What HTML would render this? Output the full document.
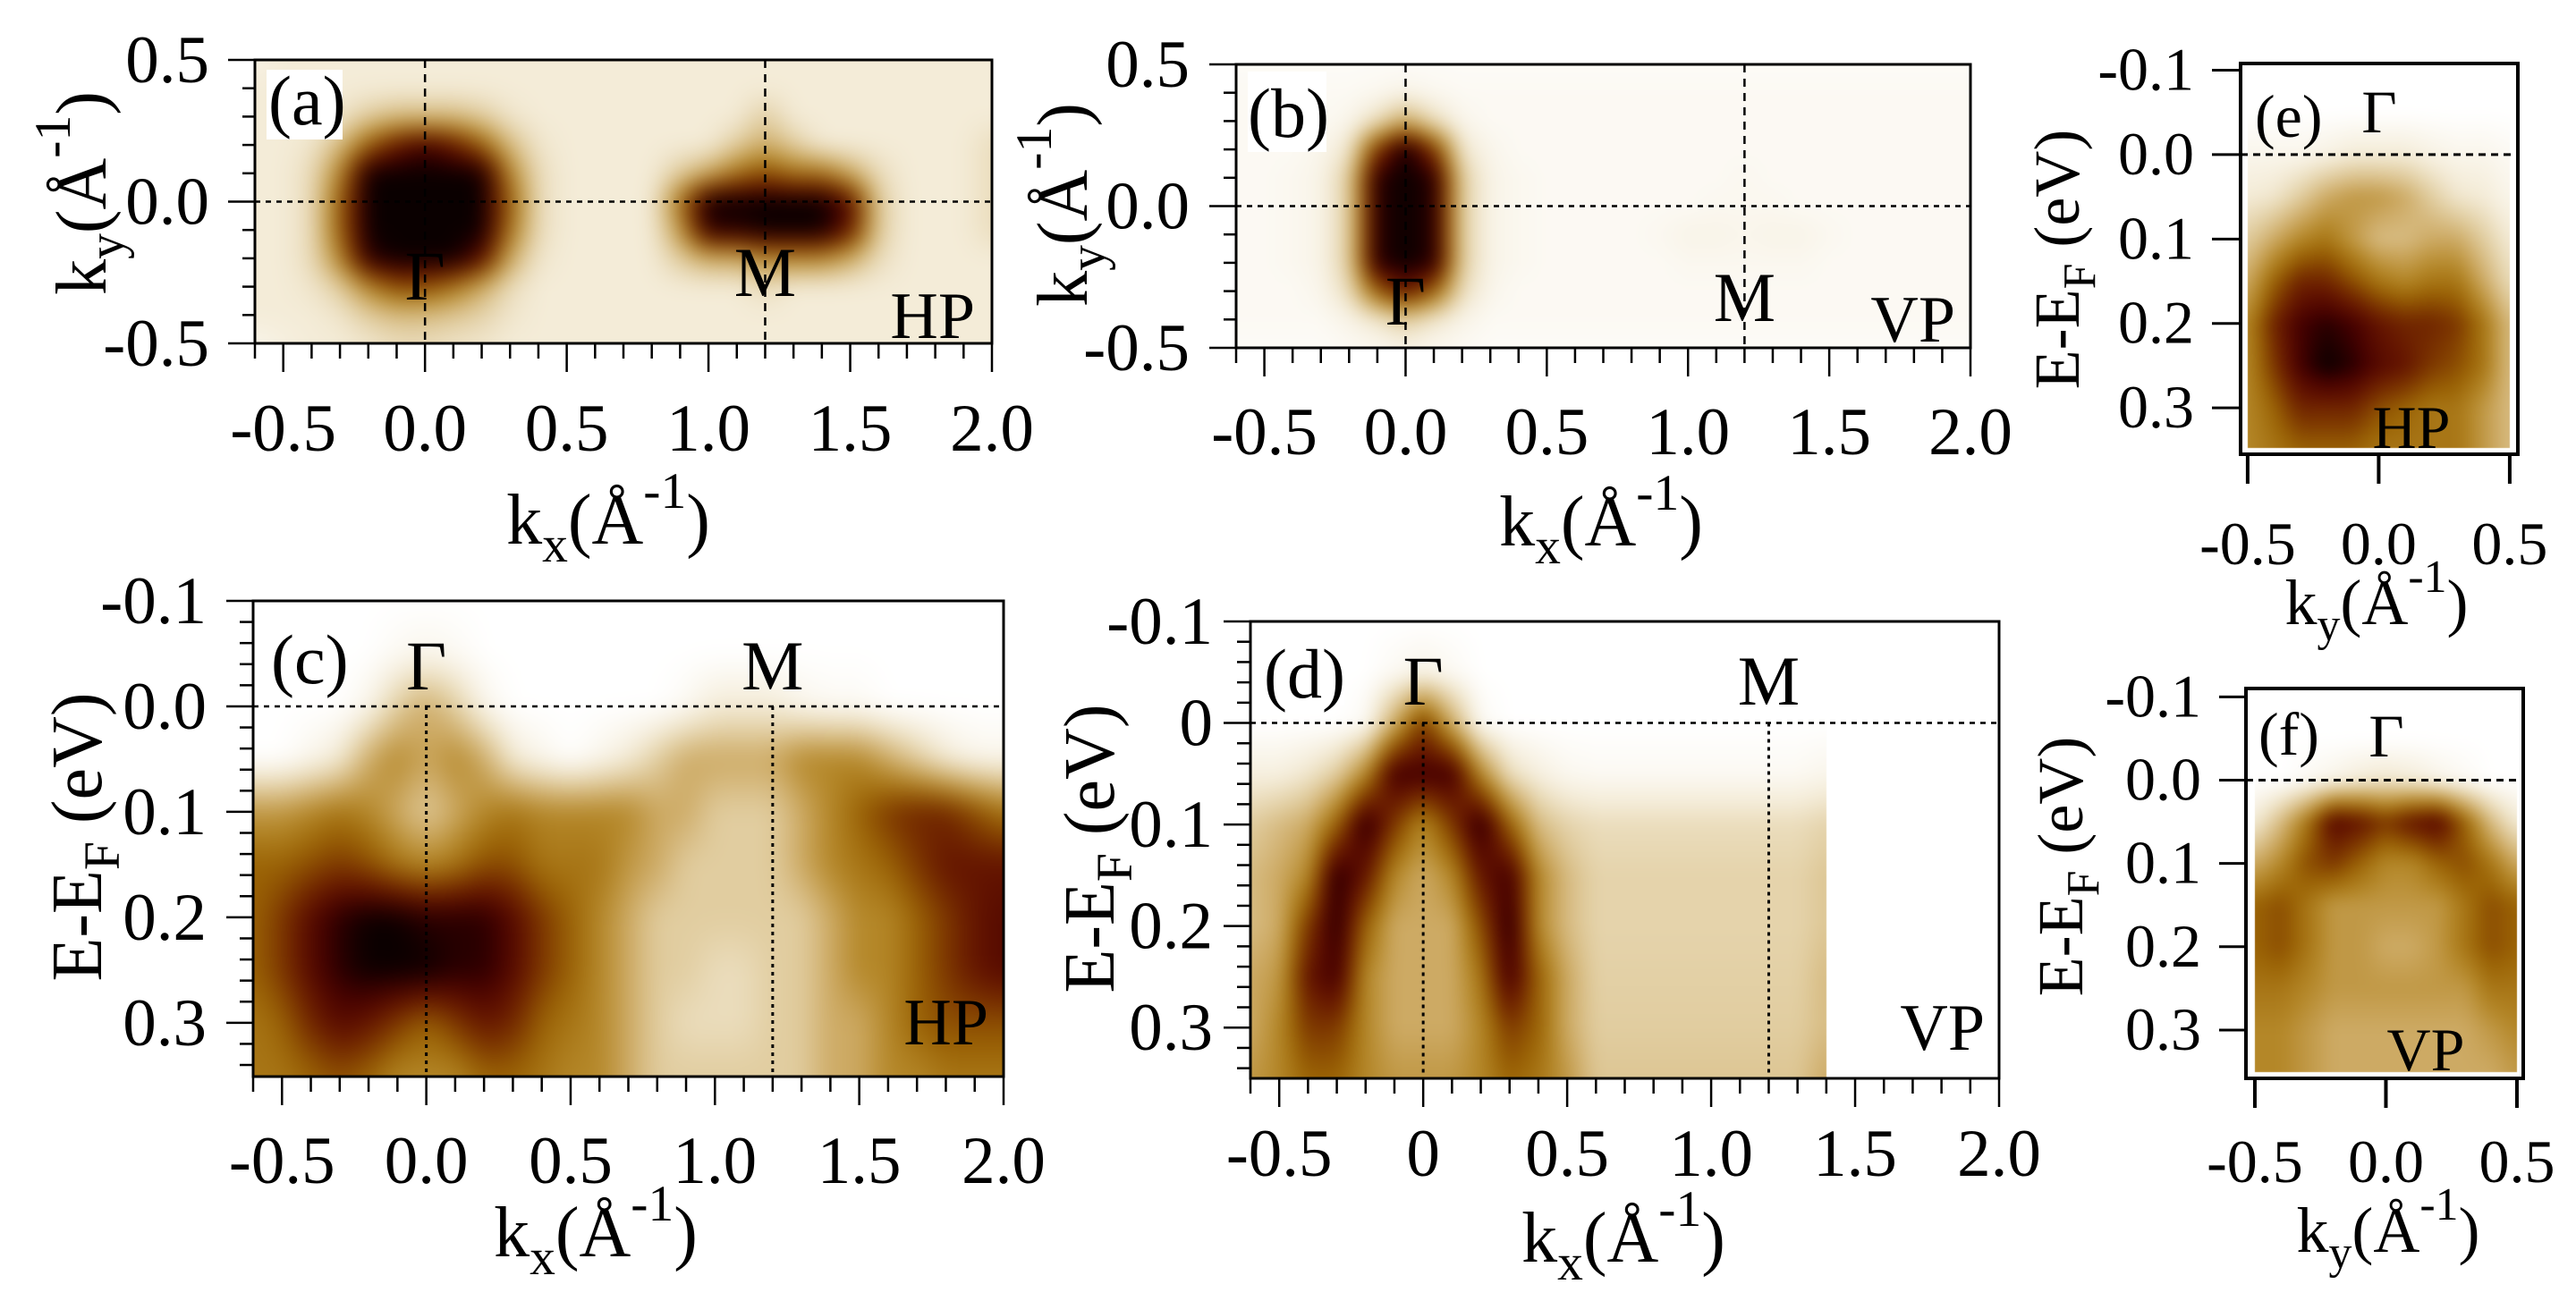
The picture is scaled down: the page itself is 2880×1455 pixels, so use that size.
<!DOCTYPE html>
<html><head><meta charset="utf-8">
<style>
html,body{margin:0;padding:0;background:#fff;}
#wrap{position:relative;width:2880px;height:1455px;overflow:hidden;background:#fff;}
#heat{position:absolute;left:0;top:0;}
#ov{position:absolute;left:0;top:0;}
text{font-family:"Liberation Serif",serif;fill:#000;}
</style></head>
<body>
<div id="wrap">
<canvas id="heat" width="2880" height="1455"></canvas>
<svg id="ov" width="2880" height="1455" xmlns="http://www.w3.org/2000/svg"></svg>
</div>
<script>
// ---------- data grids (intensity 0..9) ----------
const aKx = [-0.6, 2.0, 0.1];   // start, end, step
const aKy = [0.5, -0.5, -0.1];
const aIntensity = [
[0.6,1,1,1,1,1,1,1,1,1,1,1,1,1,1,1,1,1,1,1,1,1,1,1,1,1,1],
[1,1,1,1,1,1,1,1,1,1,1,1,1,1,1,1,1,1,1,1,1,1,1,1,1,1,1],
[1,1,1,1.2,2,2.5,2.5,2.5,2,1.2,1,1,1,1,1,1,1,1,2,1,1,1,1,1,1,1,1],
[1,1,1.2,2.5,5,7,8,7,5,2.5,1.2,1,1,1,1,1,1,2,3,2,1,1,1,1,1,1,1.5],
[1,1,1.5,4,9,9,9,9,9,4,1.5,1,1,1,1,2,3,4.5,5.5,4.5,4.5,3,1.5,1,1,1,1.5],
[1,1,1.5,5,9,9,9,9,9,5,1.5,1,1,1,1,4.5,9,9,9,9,9,7.5,2,1,1,1,1.5],
[1,1,1.5,5,9,9,9,9,9,4.5,1.5,1,1,1,1,3.5,8.5,8.5,9,9,9,7,2,1,1,1,1.5],
[1,1,1.5,4,8.5,9,9,9,7.5,3,1.2,1,1,1,1,2,3,3,4,4,4,3,1.5,1,1,1,1],
[1,1,1.2,2,4,5.5,5.5,4.5,3,1.5,1,1,1,1,1,1,1,1,1.5,1,1,1,1,1,1,1,1],
[1,1,1,1.2,2,2.5,2.5,2.2,1.8,1.2,1,1,1,1,1,1,1,1,1,1,1,1,1,1,1,1,1],
[0.5,0.8,1,1,1.2,1.5,1.5,1.3,1.2,1,1,1,1,1,1,1,1,1,1,1,1,1,1,1,1,1,1]];
const bKx = [-0.6, 2.0, 0.1];
const bKy = [0.5, -0.5, -0.1];
const bIntensity = [
[0.2,0.2,0.2,0.2,0.2,0.2,0.2,0.2,0.2,0.2,0.2,0.2,0.2,0.2,0.2,0.2,0.2,0.2,0.2,0.2,0.2,0.2,0.2,0.2,0.2,0.2,0.2],
[0.3,0.3,0.3,0.3,0.3,0.4,0.6,0.4,0.3,0.3,0.3,0.3,0.3,0.3,0.3,0.3,0.3,0.3,0.3,0.3,0.3,0.3,0.3,0.3,0.3,0.3,0.3],
[0.3,0.3,0.3,0.3,0.5,1.5,3,1.5,0.5,0.3,0.3,0.3,0.3,0.3,0.3,0.3,0.3,0.3,0.3,0.3,0.3,0.3,0.3,0.3,0.3,0.3,0.3],
[0.3,0.3,0.3,0.5,1.2,6,9,6,1.2,0.5,0.3,0.3,0.3,0.3,0.3,0.3,0.3,0.3,0.3,0.3,0.3,0.3,0.3,0.3,0.3,0.3,0.3],
[0.3,0.3,0.4,0.6,2,8.5,9,8.5,2,0.6,0.4,0.3,0.3,0.3,0.3,0.3,0.3,0.3,0.4,0.3,0.3,0.3,0.3,0.3,0.3,0.3,0.3],
[0.3,0.3,0.4,0.6,2,8.5,9,8.5,2,0.6,0.4,0.3,0.3,0.3,0.3,0.3,0.3,0.4,0.4,0.4,0.3,0.3,0.3,0.3,0.3,0.3,0.3],
[0.3,0.3,0.4,0.6,2,8.5,9,8.5,2,0.6,0.4,0.3,0.3,0.3,0.3,0.4,0.6,0.6,0.5,0.6,0.6,0.4,0.3,0.3,0.3,0.3,0.3],
[0.3,0.3,0.4,0.6,2,8.5,9,8.5,2,0.6,0.4,0.3,0.3,0.3,0.3,0.3,0.4,0.4,0.4,0.4,0.4,0.3,0.3,0.3,0.3,0.3,0.3],
[0.3,0.3,0.3,0.5,1.5,5,7,5,1.5,0.5,0.3,0.3,0.3,0.3,0.3,0.3,0.3,0.3,0.3,0.3,0.3,0.3,0.3,0.3,0.3,0.3,0.3],
[0.3,0.3,0.3,0.3,0.6,1.2,2,1.2,0.6,0.3,0.3,0.3,0.3,0.3,0.3,0.3,0.3,0.3,0.3,0.3,0.3,0.3,0.3,0.3,0.3,0.3,0.3],
[0.2,0.2,0.2,0.2,0.3,0.4,0.6,0.4,0.3,0.2,0.2,0.2,0.2,0.2,0.2,0.2,0.2,0.2,0.2,0.2,0.2,0.2,0.2,0.2,0.2,0.2,0.2]];
const cKx = [-0.6, 2.0, 0.1];
const cE = [-0.1, 0.35, 0.05];
const cIntensity = [
[0,0,0,0,0,0,0,0,0,0,0,0,0,0,0,0,0,0,0,0,0,0,0,0,0,0,0],
[0,0,0,0,0,0.3,0.5,0.3,0,0,0,0,0,0,0,0,0,0,0,0,0,0,0,0,0,0,0],
[0,0,0,0,0.5,2,3,2,0.5,0,0,0,0,0,0,0.3,1,1,1,0.5,0.3,0.3,0,0,0,0,0],
[0,0,0.5,1,3,4,3,4,3,1,0.5,0,0.5,1,2,3,3,3,3,4,4,4,3,2,1,0.5,0.5],
[3.5,3.5,4,4.5,4,3,2,3,4,4.5,4,4,4,4,3,3,2,2,2,3,4,5,6,6.5,6.5,5.5,4.5],
[5,5,5.5,6,5.5,4.5,4,4.5,5.5,5.5,4.5,4.5,4.5,3.5,3,2,2,2,2,3,4,4.5,5,6,7,7,7],
[5,6,7.5,8.5,9,9,8.5,8.5,8.5,7.5,6,5,4,3,2,2,2,2,2,2,3,4,4,5,6,7,7.5],
[5,6,7.5,8.5,9,9,9,8.5,8.5,7.5,6,5,4,3,2,2,1.5,1.5,2,2,3,4,4,5,6,7,7.5],
[4.5,5,6.5,7.5,7,6,5,6,7,6.5,5,4.5,4,3,2,1.5,1.5,1.5,2,2,3,3,4,5,5.5,5.5,5.5],
[4.5,4.5,5,5.5,5,4,4,4,5,5,4.5,4,4,3,2,2,2,2,2,2,3,3,4,4,4.5,4.5,4.5]];
const dKx = [-0.6, 1.4, 0.1];
const dE = [-0.1, 0.35, 0.05];
const dIntensity = [
[0,0,0,0,0,0,0,0,0,0,0,0,0,0,0,0,0,0,0,0,0],
[0,0,0,0,0,0.3,0.6,0.3,0,0,0,0,0,0,0,0,0,0,0,0,0],
[0,0,0,0,0.3,3,6,3,0.3,0,0,0,0,0,0,0,0,0,0,0,0],
[0.8,0.8,1.2,2,4,8,8,8,4,1.5,0.8,0.4,0.3,0.3,0.3,0.3,0.3,0.3,0.3,0.3,0.5],
[2,2.5,3,5,8.5,6,4,6,8.5,5,2.5,1.8,1.5,1.5,1.5,1.5,1.5,1.5,1.5,1.5,1.8],
[2.5,3,4,8.5,7,4,3,4,7,8,4,2.5,1.8,1.8,1.8,1.8,1.8,1.8,1.8,1.8,2.2],
[2.5,3,6,8.5,5,3,3,3,5.5,8.5,4,2.5,1.8,1.8,1.8,1.8,1.8,1.8,1.8,1.8,2.2],
[3,3.5,7,8,4,3,3,3,4.5,8,5,3,1.9,1.9,1.9,1.9,1.9,1.9,1.9,1.9,2.5],
[3,4,6,6,4,3,3,3,4,6,5,3,2,2,2,2,2,2,2,2,2.5],
[3.5,4,5,5,4,3.5,3.5,3.5,4,5,4.5,3.5,2.2,2.2,2.2,2.2,2.2,2.2,2.2,2.2,3]];
const eKy = [-0.5, 0.5, 0.1];
const eE = [-0.1, 0.35, 0.05];
const eIntensity = [
[0,0,0,0,0,0,0,0,0,0,0],
[0,0,0,0,0,0,0,0,0,0,0],
[0.5,0.5,0.5,0.7,1,1,1,0.7,0.5,0.5,0.3],
[1,1.2,2,3,3.5,3.5,3,2,1.2,1,0.5],
[2,3,4,4.5,3.5,2.5,2.5,3,3,2,1],
[3,5,6.5,6.5,5.5,4.5,4,4.5,4.5,3,1.5],
[4,6.5,8,8.5,8,7,6.5,6.5,6,4.5,2.5],
[4,6,8,9,8.5,7.5,7,6,5.5,4.5,2.5],
[4,5,6.5,6.5,6.5,5.5,5,4.5,4.5,3.5,2.5],
[4,4.5,5,5,5,4.5,4.5,4.5,4.5,3.5,2.5]];
const fKy = [-0.5, 0.5, 0.1];
const fE = [-0.1, 0.35, 0.05];
const fIntensity = [
[0,0,0,0,0,0,0,0,0,0,0],
[0,0,0,0,0,0,0,0,0,0,0],
[0,0,0.3,0.6,1,1.2,1,0.6,0.3,0,0],
[1,2.5,4.5,7.5,7,6,7,7.5,5,2.5,1],
[3,4,5.5,6,5,4,4,5,5.5,4.5,3],
[5,5.5,4.5,3.5,3.5,3.5,3.5,3.5,4.5,5.5,5],
[5,5.5,4.5,3.5,3.5,3,3,3.5,4.5,5.5,5],
[4.5,4.5,4,3.5,3.5,3.5,3.5,3.5,3.5,4.5,4.5],
[4,4,3.5,3,3,3,3,3,3,3.5,4],
[4,4,3.5,3,3,3,3,3,3,3,3.5]];

// tick labels
const abXTickVals = [-0.5,0,0.5,1,1.5,2];
const abXTickLabels = ['-0.5','0.0','0.5','1.0','1.5','2.0'];
const abYTickVals = [0.5,0,-0.5];
const abYTickLabels = ['0.5','0.0','-0.5'];
const cXTickLabels = ['-0.5','0.0','0.5','1.0','1.5','2.0'];
const dXTickLabels = ['-0.5','0','0.5','1.0','1.5','2.0'];
const eYTickVals = [-0.1,0,0.1,0.2,0.3];
const cYTickLabels = ['-0.1','0.0','0.1','0.2','0.3'];
const dYTickLabels = ['-0.1','0','0.1','0.2','0.3'];
const efXTickVals = [-0.5,0,0.5];
const efXTickLabels = ['-0.5','0.0','0.5'];

// colormap stops (index = intensity level)
const cmap = [[255,255,255],[244,236,216],[225,205,160],[205,170,100],[180,135,40],[155,100,5],[125,55,0],[100,20,0],[70,0,0],[10,0,0]];

const SVGNS = 'http://www.w3.org/2000/svg';
const svg = document.getElementById('ov');
const ctx = document.getElementById('heat').getContext('2d');
ctx.fillStyle = '#fff'; ctx.fillRect(0,0,2880,1455);

function el(tag, parent){ const e = document.createElementNS(SVGNS, tag); (parent||svg).appendChild(e); return e; }
function makeAxis(P){
  P.sx = v => P.x0 + (v - P.xd[0]) / (P.xd[1]-P.xd[0]) * (P.x1-P.x0);
  P.sy = v => P.y0 + (v - P.yd[0]) / (P.yd[1]-P.yd[0]) * (P.y1-P.y0);
  return P;
}
function colorOf(v){
  v = Math.max(0, Math.min(9, v));
  const i = Math.min(8, Math.floor(v)), f = v - i;
  const a = cmap[i], b = cmap[i+1];
  return [a[0]+(b[0]-a[0])*f, a[1]+(b[1]-a[1])*f, a[2]+(b[2]-a[2])*f];
}
function drawHeat(P, gx, gy, grid, lim, blur){
  const nC = grid[0].length, nR = grid.length;
  const xa = lim ? lim[0] : P.xd[0], xb = lim ? lim[1] : P.xd[1];
  const ya = lim ? lim[2] : P.yd[0], yb = lim ? lim[3] : P.yd[1];
  const px0 = Math.round(Math.max(P.x0, Math.min(P.sx(xa), P.sx(xb))));
  const px1 = Math.round(Math.min(P.x1, Math.max(P.sx(xa), P.sx(xb))));
  const py0 = Math.round(Math.max(P.y0, Math.min(P.sy(ya), P.sy(yb))));
  const py1 = Math.round(Math.min(P.y1, Math.max(P.sy(ya), P.sy(yb))));
  const m = 40;
  const W = px1-px0+2*m, H = py1-py0+2*m;
  const off = document.createElement('canvas'); off.width = W; off.height = H;
  const octx = off.getContext('2d');
  const img = octx.createImageData(W, H);
  for (let j=0;j<H;j++){
    const yy = Math.max(py0, Math.min(py1-1, py0-m+j));
    const yv = P.yd[0] + (yy+0.5-P.y0)/(P.y1-P.y0)*(P.yd[1]-P.yd[0]);
    let fr = (yv-gy[0])/gy[2]; fr = Math.max(0, Math.min(nR-1, fr));
    const r0 = Math.min(nR-2, Math.floor(fr)), tr = fr - r0;
    for (let i=0;i<W;i++){
      const xx = Math.max(px0, Math.min(px1-1, px0-m+i));
      const xv = P.xd[0] + (xx+0.5-P.x0)/(P.x1-P.x0)*(P.xd[1]-P.xd[0]);
      let fc = (xv-gx[0])/gx[2]; fc = Math.max(0, Math.min(nC-1, fc));
      const c0 = Math.min(nC-2, Math.floor(fc)), tc = fc - c0;
      const v = (grid[r0][c0]*(1-tc)+grid[r0][c0+1]*tc)*(1-tr) + (grid[r0+1][c0]*(1-tc)+grid[r0+1][c0+1]*tc)*tr;
      const col = colorOf(v), k = (j*W+i)*4;
      img.data[k]=col[0]; img.data[k+1]=col[1]; img.data[k+2]=col[2]; img.data[k+3]=255;
    }
  }
  octx.putImageData(img, 0, 0);
  ctx.save();
  ctx.beginPath(); ctx.rect(px0, py0, px1-px0, py1-py0); ctx.clip();
  ctx.filter = 'blur(' + (blur||12) + 'px)';
  ctx.drawImage(off, px0-m, py0-m);
  ctx.restore();
}
function line(x1,y1,x2,y2,w,dash,name){
  const l = el('line');
  l.setAttribute('x1',x1); l.setAttribute('y1',y1); l.setAttribute('x2',x2); l.setAttribute('y2',y2);
  l.setAttribute('stroke','#000'); l.setAttribute('stroke-width',w);
  if (dash) l.setAttribute('stroke-dasharray',dash);
  
  
  return l;
}
function txt(x,y,s,size,anchor,name){
  const t = el('text');
  t.setAttribute('x',x); t.setAttribute('y',y); t.setAttribute('font-size',size);
  t.setAttribute('text-anchor',anchor||'start');
  t.textContent = s;
  
  
  return t;
}
function whiteBox(x,y,w,h){
  const r = el('rect');
  r.setAttribute('x',x); r.setAttribute('y',y); r.setAttribute('width',w); r.setAttribute('height',h); r.setAttribute('fill','#fff');
  
  
}
function frame(P,w){
  const r = el('rect');
  r.setAttribute('x',P.x0); r.setAttribute('y',P.y0); r.setAttribute('width',P.x1-P.x0); r.setAttribute('height',P.y1-P.y0);
  r.setAttribute('fill','none'); r.setAttribute('stroke','#000'); r.setAttribute('stroke-width',w);
  
  
}
function title(x,y,main,sub,size,rot,name){
  const t = el('text');
  t.setAttribute('x',x); t.setAttribute('y',y); t.setAttribute('font-size',size); t.setAttribute('text-anchor','middle');
  if (rot) t.setAttribute('transform','rotate(-90 '+x+' '+y+')');
  
  
  const parts = main === 'k'
    ? [['k',0,1],[sub,0.25,0.72],['(Å',-0.25,1],['-1',-0.5,0.72],[')',0.5,1]]
    : [['E-E',0,1],['F',0.25,0.72],[' (eV)',-0.25,1]];
  for (const p of parts){
    const s = el('tspan', t);
    s.setAttribute('dy', (p[1]*size)+'px');
    s.setAttribute('font-size', p[2]*size);
    s.textContent = p[0];
  }
}
function xTicks(P, major, minorStep, maj, mnr, name){
  for (let v = P.xd[0]; v <= P.xd[1]+1e-9; v += minorStep){
    const vv = Math.round(v/minorStep)*minorStep;
    if (vv < P.xd[0]-1e-9 || vv > P.xd[1]+1e-9) continue;
    const isMaj = major.some(m => Math.abs(m-vv) < 1e-6);
    line(P.sx(vv), P.y1, P.sx(vv), P.y1 + (isMaj?maj:mnr), 2.5, null, name);
  }
}
function yTicks(P, major, minorStep, maj, mnr, name){
  const lo = Math.min(P.yd[0],P.yd[1]), hi = Math.max(P.yd[0],P.yd[1]);
  for (let v = Math.ceil(lo/minorStep)*minorStep; v <= hi+1e-9; v += minorStep){
    const vv = Math.round(v/minorStep)*minorStep;
    const isMaj = major.some(m => Math.abs(m-vv) < 1e-6);
    line(P.x0 - (isMaj?maj:mnr), P.sy(vv), P.x0, P.sy(vv), 2.5, null, name);
  }
}

// ---------- panel (a) ----------
const A = makeAxis({x0:285,x1:1109,y0:67,y1:384,xd:[-0.6,2.0],yd:[0.5,-0.5]});
drawHeat(A, aKx, aKy, aIntensity, null, 12);
frame(A,3);
line(A.sx(0),A.y0,A.sx(0),A.y1,2.5,'9 7','gamma-line-a');
line(A.sx(1.2),A.y0,A.sx(1.2),A.y1,2.5,'9 7','m-line-a');
line(A.x0,A.sy(0),A.x1,A.sy(0),2.5,'6 6','zero-line-a');
xTicks(A, abXTickVals, 0.1, 32, 17, 'x-tick-a');
yTicks(A, abYTickVals, 0.1, 30, 14, 'y-tick-a');
abXTickVals.forEach((v,i)=>txt(A.sx(v),504,abXTickLabels[i],75,'middle','x-tick-label-a'));
abYTickVals.forEach((v,i)=>txt(234,A.sy(v)+25,abYTickLabels[i],75,'end','y-tick-label-a'));
title(680,608,'k','x',80,false,'x-axis-title-a');
title(118,216,'k','y',80,true,'y-axis-title-a');
whiteBox(298,78,85,78);
txt(300,139,'(a)',78,'start','panel-label-a');
txt(A.sx(0),335,'Γ',78,'middle','gamma-label-a');
txt(A.sx(1.2),331,'M',78,'middle','m-label-a');
txt(1090,378,'HP',74,'end','polarization-label-a');

// ---------- panel (b) ----------
const B = makeAxis({x0:1382,x1:2203,y0:72,y1:389,xd:[-0.6,2.0],yd:[0.5,-0.5]});
drawHeat(B, bKx, bKy, bIntensity, null, 10);
frame(B,3);
line(B.sx(0),B.y0,B.sx(0),B.y1,2.5,'9 7','gamma-line-b');
line(B.sx(1.2),B.y0,B.sx(1.2),B.y1,2.5,'9 7','m-line-b');
line(B.x0,B.sy(0),B.x1,B.sy(0),2.5,'6 6','zero-line-b');
xTicks(B, abXTickVals, 0.1, 32, 17, 'x-tick-b');
yTicks(B, abYTickVals, 0.1, 30, 14, 'y-tick-b');
abXTickVals.forEach((v,i)=>txt(B.sx(v),508,abXTickLabels[i],75,'middle','x-tick-label-b'));
abYTickVals.forEach((v,i)=>txt(1330,B.sy(v)+25,abYTickLabels[i],75,'end','y-tick-label-b'));
title(1790,610,'k','x',80,false,'x-axis-title-b');
title(1215,229,'k','y',80,true,'y-axis-title-b');
whiteBox(1395,80,88,90);
txt(1395,153,'(b)',78,'start','panel-label-b');
txt(B.sx(0),363,'Γ',78,'middle','gamma-label-b');
txt(B.sx(1.2),359,'M',78,'middle','m-label-b');
txt(2186,382,'VP',74,'end','polarization-label-b');

// ---------- panel (c) ----------
const C = makeAxis({x0:283,x1:1122,y0:672,y1:1204,xd:[-0.6,2.0],yd:[-0.1,0.351]});
drawHeat(C, cKx, cE, cIntensity, null, 14);
frame(C,3);
line(C.sx(0),C.sy(0),C.sx(0),C.y1,3,'4 5','gamma-line-c');
line(C.sx(1.2),C.sy(0),C.sx(1.2),C.y1,3,'4 5','m-line-c');
line(C.x0,C.sy(0),C.x1,C.sy(0),2.5,'6 6','fermi-line-c');
xTicks(C, abXTickVals, 0.1, 32, 17, 'x-tick-c');
yTicks(C, eYTickVals, 0.02, 30, 15, 'y-tick-c');
abXTickVals.forEach((v,i)=>txt(C.sx(v),1323,cXTickLabels[i],75,'middle','x-tick-label-c'));
eYTickVals.forEach((v,i)=>txt(231,C.sy(v)+25,cYTickLabels[i],75,'end','y-tick-label-c'));
title(666,1405,'k','x',80,false,'x-axis-title-c');
title(113,936,'E',null,80,true,'y-axis-title-c');
txt(303,764,'(c)',78,'start','panel-label-c');
txt(C.sx(0),771,'Γ',78,'middle','gamma-label-c');
txt(C.sx(1.2),771,'M',78,'middle','m-label-c');
txt(1105,1168,'HP',74,'end','polarization-label-c');

// ---------- panel (d) ----------
const D = makeAxis({x0:1398,x1:2235,y0:695,y1:1206,xd:[-0.6,2.0],yd:[-0.1,0.35]});
drawHeat(D, dKx, dE, dIntensity, [-0.6,1.4,-0.1,0.35], 9);
frame(D,3);
line(D.sx(0),D.sy(0),D.sx(0),D.y1,3,'4 5','gamma-line-d');
line(D.sx(1.2),D.sy(0),D.sx(1.2),D.y1,3,'4 5','m-line-d');
line(D.x0,D.sy(0),D.x1,D.sy(0),2.5,'6 6','fermi-line-d');
xTicks(D, abXTickVals, 0.1, 32, 17, 'x-tick-d');
yTicks(D, eYTickVals, 0.02, 30, 15, 'y-tick-d');
abXTickVals.forEach((v,i)=>txt(D.sx(v),1315,dXTickLabels[i],75,'middle','x-tick-label-d'));
eYTickVals.forEach((v,i)=>txt(1356,D.sy(v)+25,dYTickLabels[i],75,'end','y-tick-label-d'));
title(1815,1411,'k','x',80,false,'x-axis-title-d');
title(1245,949,'E',null,80,true,'y-axis-title-d');
whiteBox(1405,697,98,92);
txt(1413,780,'(d)',78,'start','panel-label-d');
txt(D.sx(0),788,'Γ',78,'middle','gamma-label-d');
txt(D.sx(1.2),788,'M',78,'middle','m-label-d');
txt(2219,1174,'VP',74,'end','polarization-label-d');

// ---------- panel (e) ----------
const E = makeAxis({x0:2505,x1:2815,y0:71,y1:508,xd:[-0.527,0.531],yd:[-0.108,0.355]});
drawHeat(E, eKy, eE, eIntensity, [-0.5,0.5,-0.108,0.348], 8);
frame(E,4);
line(E.x0,E.sy(0),E.x1,E.sy(0),3,'8 6','fermi-line-e');
efXTickVals.forEach(v=>line(E.sx(v),E.y1,E.sx(v),E.y1+33,4,null,'x-tick-e'));
eYTickVals.forEach(v=>line(E.x0-32,E.sy(v),E.x0,E.sy(v),3,null,'y-tick-e'));
efXTickVals.forEach((v,i)=>txt(E.sx(v),631,efXTickLabels[i],68,'middle','x-tick-label-e'));
eYTickVals.forEach((v,i)=>txt(2453,E.sy(v)+22,cYTickLabels[i],68,'end','y-tick-label-e'));
title(2657,698,'k','y',72,false,'x-axis-title-e');
title(2324,290,'E',null,72,true,'y-axis-title-e');
txt(2521,153,'(e)',68,'start','panel-label-e');
txt(2660,148,'Γ',68,'middle','gamma-label-e');
txt(2696,501,'HP',68,'middle','polarization-label-e');

// ---------- panel (f) ----------
const F = makeAxis({x0:2511,x1:2821,y0:770,y1:1206,xd:[-0.534,0.524],yd:[-0.11,0.358]});
drawHeat(F, fKy, fE, fIntensity, [-0.5,0.5,-0.11,0.35], 8);
frame(F,4);
line(F.x0,F.sy(0),F.x1,F.sy(0),3,'8 6','fermi-line-f');
efXTickVals.forEach(v=>line(F.sx(v),F.y1,F.sx(v),F.y1+33,4,null,'x-tick-f'));
eYTickVals.forEach(v=>line(F.x0-30,F.sy(v),F.x0,F.sy(v),3,null,'y-tick-f'));
efXTickVals.forEach((v,i)=>txt(F.sx(v),1322,efXTickLabels[i],68,'middle','x-tick-label-f'));
eYTickVals.forEach((v,i)=>txt(2461,F.sy(v)+22,cYTickLabels[i],68,'end','y-tick-label-f'));
title(2670,1400,'k','y',72,false,'x-axis-title-f');
title(2328,969,'E',null,72,true,'y-axis-title-f');
txt(2525,844,'(f)',68,'start','panel-label-f');
txt(2668,846,'Γ',68,'middle','gamma-label-f');
txt(2712,1197,'VP',68,'middle','polarization-label-f');
</script>
</body></html>
